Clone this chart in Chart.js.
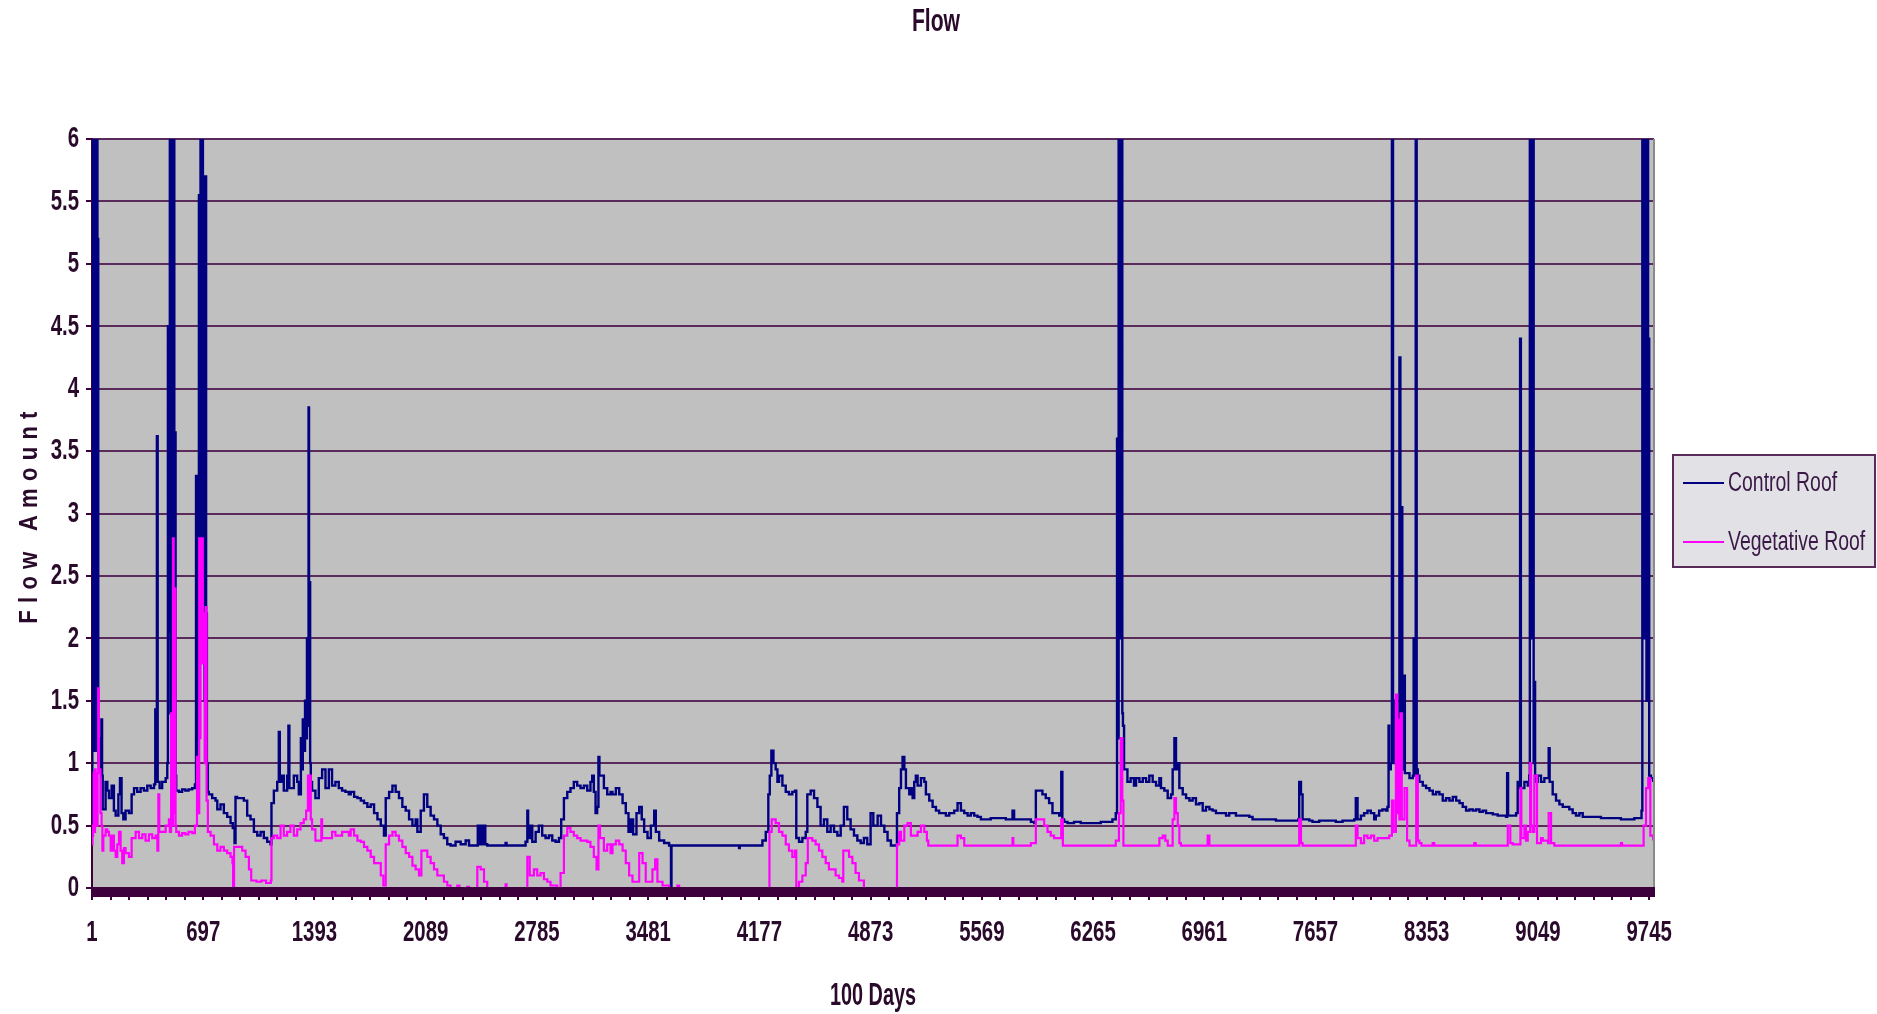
<!DOCTYPE html>
<html>
<head>
<meta charset="utf-8">
<script src="https://cdn.jsdelivr.net/npm/chart.js@4.4.1/dist/chart.umd.min.js"></script>
<style>
  html, body { margin: 0; padding: 0; background: #ffffff; }
  #wrap { width: 1877px; height: 1014px; position: relative; }
</style>
</head>
<body>
<div id="wrap"><canvas id="c" width="1877" height="1014"></canvas></div>
<script>
// ---------------- DATA ----------------
const chartTitle = 'Flow';
const xAxisTitle = '100 Days';
const yAxisTitle = 'Flow Amount';
const seriesNames = ['Control Roof', 'Vegetative Roof'];
const dayTicks = [1, 697, 1393, 2089, 2785, 3481, 4177, 4873, 5569, 6265, 6961, 7657, 8353, 9049, 9745];
const flowTicks = [0, 0.5, 1, 1.5, 2, 2.5, 3, 3.5, 4, 4.5, 5, 5.5, 6];
const dayRange = [1, 9775];

// [day, flow]
const controlRoof = [
[1,0.45],[3,3.1],[5,6],[7,1.1],[9,6],[12,4.05],[14,6],[16,1.1],[19,6],[21,3.0],[23,6],[25,1.5],[27,4.05],[30,1.1],[33,6],[35,2.5],[37,5.2],[40,1.0],[45,1.1],[50,0.95],[55,1.2],[60,1.35],[64,0.9],[68,0.63],
[86,0.85],[97,0.78],[107,0.72],[124,0.82],[138,0.62],[149,0.58],[166,0.75],[176,0.88],[186,0.6],[197,0.55],[211,0.62],[232,0.6],[249,0.75],[264,0.8],[284,0.77],[305,0.8],[326,0.78],[347,0.82],[368,0.8],[389,0.83],[397,1.43],[402,0.9],[407,3.62],[412,0.85],[424,0.8],[440,0.85],[462,0.88],[472,1.0],[476,4.5],[480,2.05],[484,4.05],[488,6],[492,1.4],[496,6],[500,2.5],[504,6],[508,3.0],[512,6],[516,1.4],[520,3.65],[524,0.9],[528,0.78],[545,0.77],[565,0.79],[585,0.78],[605,0.79],[628,0.8],[645,0.83],[652,3.3],[656,1.05],[660,2.8],[665,1.2],[670,5.55],[675,2.0],[680,6],[685,2.5],[690,6],[695,3.0],[700,4.4],[705,1.5],[710,5.7],[715,2.2],[720,1.0],[726,0.77],
[732,0.75],[753,0.72],[774,0.7],[785,0.63],[805,0.67],[826,0.6],[847,0.57],[868,0.52],[882,0.48],[893,0.36],[899,0.73],[909,0.72],[930,0.72],[951,0.7],[972,0.58],[993,0.55],[1014,0.45],[1035,0.42],[1056,0.45],[1076,0.4],[1097,0.37],[1118,0.35],[1124,0.68],[1139,0.78],[1160,0.85],[1170,1.25],[1176,0.85],[1187,0.9],[1201,0.78],[1222,0.9],[1230,1.3],[1236,0.8],[1243,0.8],[1264,0.9],[1285,0.85],[1295,0.75],[1308,1.2],[1312,0.95],[1320,1.35],[1326,1.1],[1334,1.5],[1340,1.2],[1346,2.0],[1351,1.3],[1356,3.85],[1359,1.4],[1362,2.45],[1366,1.0],[1370,0.85],[1378,0.78],[1399,0.72],[1420,0.88],[1441,0.95],[1462,0.8],[1483,0.95],[1503,0.82],[1524,0.85],[1545,0.8],[1566,0.78],[1587,0.77],[1608,0.75],
[1620,0.77],[1641,0.73],[1662,0.72],[1683,0.7],[1703,0.68],[1724,0.65],[1745,0.67],[1766,0.6],[1787,0.55],[1808,0.5],[1828,0.42],[1839,0.72],[1860,0.77],[1881,0.82],[1901,0.77],[1922,0.72],[1943,0.65],[1964,0.62],[1985,0.55],[2006,0.5],[2026,0.55],[2037,0.45],[2058,0.62],[2078,0.75],[2099,0.65],[2120,0.58],[2141,0.55],[2162,0.5],[2183,0.43],[2203,0.4],[2224,0.35],[2245,0.34],[2276,0.37],[2308,0.35],[2339,0.38],[2360,0.34],[2412,0.34],[2415,0.5],[2422,0.35],[2430,0.5],[2440,0.35],[2450,0.5],[2462,0.35],[2474,0.34],[2589,0.36],[2595,0.34],[2714,0.37],[2725,0.62],[2730,0.4],[2745,0.5],[2756,0.37],[2777,0.45],[2797,0.5],[2818,0.42],[2839,0.4],[2860,0.42],[2881,0.38],[2902,0.37],[2923,0.4],[2937,0.55],[2954,0.72],[2975,0.77],[2995,0.8],[3016,0.85],[3037,0.82],[3058,0.8],[3079,0.82],[3100,0.78],[3120,0.85],[3131,0.9],[3141,0.77],[3152,0.6],[3162,0.65],[3170,1.05],[3176,0.9],[3183,0.9],[3204,0.8],[3225,0.75],[3246,0.77],
[3258,0.75],[3279,0.8],[3300,0.75],[3321,0.68],[3341,0.6],[3358,0.45],[3373,0.55],[3387,0.43],[3408,0.6],[3425,0.65],[3441,0.55],[3456,0.45],[3477,0.4],[3498,0.5],[3519,0.62],[3529,0.45],[3550,0.38],[3581,0.36],[3612,0.34],[3624,0],[3627,0.34],[4050,0.32],[4054,0.34],[4196,0.38],[4217,0.45],[4233,0.75],[4242,0.9],[4252,1.1],[4265,1.0],[4279,0.95],[4290,0.85],[4300,0.9],[4321,0.82],[4342,0.77],[4362,0.75],[4383,0.77],[4400,0.78],[4408,0.4],[4425,0.37],[4446,0.4],[4467,0.45],[4477,0.75],[4498,0.78],[4519,0.72],[4540,0.65],[4560,0.5],[4581,0.55],[4602,0.45],[4623,0.5],[4644,0.45],[4665,0.42],[4686,0.5],[4706,0.65],[4727,0.55],[4748,0.47],[4769,0.42],[4790,0.38],[4811,0.36],[4831,0.4],[4852,0.35],[4873,0.6],
[4890,0.5],[4917,0.58],[4938,0.5],[4959,0.45],[4979,0.38],[5000,0.34],[5031,0.34],[5038,0.6],[5052,0.8],[5063,0.95],[5073,1.05],[5084,0.95],[5094,0.8],[5104,0.8],[5115,0.75],[5125,0.8],[5136,0.72],[5146,0.85],[5156,0.9],[5167,0.82],[5188,0.88],[5209,0.85],[5219,0.75],[5240,0.7],[5261,0.65],[5282,0.62],[5302,0.6],[5323,0.6],[5344,0.58],[5365,0.6],[5396,0.62],[5417,0.68],[5438,0.62],[5459,0.6],[5480,0.58],[5500,0.6],[5521,0.58],[5542,0.57],[5563,0.55],[5594,0.55],[5625,0.56],[5657,0.56],[5688,0.56],[5719,0.55],[5740,0.55],[5761,0.62],[5771,0.55],[5813,0.55],[5855,0.55],[5876,0.53],[5896,0.52],[5907,0.78],[5928,0.78],[5948,0.75],[5969,0.72],[5990,0.68],[6011,0.6],[6032,0.6],[6053,0.58],[6066,0.93],[6073,0.55],[6084,0.53],[6105,0.52],[6146,0.53],[6188,0.52],[6230,0.52],[6271,0.52],[6313,0.53],[6355,0.53],[6386,0.55],[6407,0.6],[6415,3.6],[6420,1.2],[6425,6],[6430,2.0],[6435,6],[6440,3.0],[6444,6],[6448,1.4],[6452,1.3],[6459,0.95],[6480,0.85],[6500,0.88],[6521,0.82],
[6534,0.88],[6555,0.85],[6576,0.88],[6597,0.85],[6617,0.9],[6638,0.85],[6659,0.82],[6680,0.88],[6690,0.8],[6711,0.78],[6732,0.72],[6753,0.75],[6763,0.95],[6774,1.2],[6784,0.95],[6795,1.0],[6805,0.8],[6826,0.75],[6847,0.72],[6868,0.7],[6888,0.72],[6909,0.67],[6930,0.68],[6951,0.62],[6972,0.65],[6993,0.63],[7013,0.62],[7034,0.6],[7055,0.6],[7076,0.6],[7097,0.58],[7117,0.6],[7159,0.58],[7201,0.58],[7243,0.57],[7263,0.55],[7326,0.55],[7388,0.55],[7409,0.54],[7472,0.54],[7534,0.54],[7549,0.55],[7555,0.85],[7566,0.75],[7576,0.55],[7618,0.54],[7638,0.53],[7680,0.54],[7722,0.54],[7763,0.54],[7784,0.53],[7826,0.54],[7868,0.54],[7899,0.55],[7909,0.72],[7920,0.55],[7941,0.58],[7961,0.6],[7982,0.62],[8003,0.6],[8024,0.55],[8034,0.58],[8055,0.62],[8076,0.63],[8097,0.62],[8107,0.65],[8114,1.3],[8118,0.95],[8128,1.0],[8135,6],[8142,1.0],[8150,1.5],[8158,1.0],[8170,1.3],[8176,0.9],[8182,4.25],[8188,1.0],[8195,3.05],[8200,0.95],[8210,1.7],[8216,0.92],[8224,0.92],[8245,0.88],[8266,0.9],[8271,2.0],[8276,0.9],[8284,6],[8290,0.95],[8297,0.9],
[8307,0.85],[8328,0.82],[8349,0.8],[8370,0.78],[8391,0.75],[8412,0.77],[8432,0.75],[8453,0.7],[8474,0.72],[8495,0.7],[8516,0.73],[8537,0.7],[8558,0.68],[8578,0.65],[8599,0.62],[8620,0.63],[8641,0.62],[8662,0.63],[8683,0.61],[8703,0.62],[8724,0.6],[8745,0.6],[8766,0.59],[8797,0.58],[8828,0.58],[8849,0.57],[8856,0.92],[8862,0.58],[8891,0.58],[8912,0.6],[8922,0.85],[8930,0.8],[8937,4.4],[8942,0.8],[8964,0.85],[8985,0.82],[8994,0.9],[8998,6],[9004,2.0],[9008,6],[9013,3.0],[9018,6],[9022,1.0],[9027,1.65],[9031,0.85],[9047,0.9],[9068,0.85],[9089,0.88],[9110,0.88],[9116,1.12],[9122,0.85],[9141,0.75],[9162,0.7],[9183,0.67],[9204,0.65],[9224,0.65],[9245,0.63],[9266,0.6],[9287,0.58],[9308,0.6],[9329,0.57],[9360,0.57],[9402,0.57],[9443,0.56],[9485,0.56],[9527,0.56],[9568,0.55],[9610,0.55],[9652,0.56],[9683,0.56],[9697,0.62],[9702,6],[9708,2.0],[9713,6],[9718,3.5],[9723,6],[9728,1.5],[9733,6],[9738,4.4],[9745,0.9],[9756,0.88],[9770,0.85]
];

const vegetativeRoof = [
[1,0.35],[4,0.42],[8,0.5],[12,0.92],[16,0.45],[20,0.95],[24,0.6],[30,0.5],[36,0.92],[40,1.6],[44,0.95],[49,0.95],[54,0.6],[61,0.5],[66,0.3],[72,0.42],[86,0.47],[97,0.45],[107,0.42],[118,0.3],[128,0.42],[138,0.3],[149,0.25],[159,0.35],[170,0.45],[180,0.3],[190,0.2],[201,0.32],[211,0.28],[232,0.25],[249,0.4],[274,0.45],[295,0.4],[316,0.43],[336,0.38],[357,0.43],[378,0.4],[399,0.42],[410,0.3],[416,0.75],[422,0.45],[440,0.45],[462,0.5],[482,0.55],[488,0.45],[496,1.4],[500,0.5],[508,2.8],[512,0.6],[518,2.4],[524,0.5],[528,0.45],[545,0.42],[565,0.44],[585,0.43],[605,0.45],[628,0.44],[645,0.5],[658,1.05],[664,0.6],[672,2.8],[676,1.2],[680,2.3],[688,2.8],[694,1.8],[700,2.2],[706,1.0],[712,2.25],[718,0.7],[726,0.45],[743,0.42],[764,0.35],[785,0.3],[805,0.33],[826,0.3],[847,0.28],[868,0.25],[880,0.2],[884,0],[890,0.33],[920,0.33],[941,0.3],[962,0.25],[983,0.15],[997,0.06],[1030,0.05],[1060,0.06],[1090,0.04],[1120,0.06],
[1124,0.4],[1139,0.42],[1160,0.4],[1181,0.5],[1201,0.42],[1222,0.45],[1243,0.5],[1264,0.42],[1285,0.47],[1306,0.52],[1326,0.55],[1341,0.62],[1352,0.9],[1358,0.62],[1364,0.9],[1370,0.55],[1378,0.47],[1399,0.38],[1420,0.38],[1436,0.55],[1441,0.4],[1462,0.4],[1483,0.4],[1503,0.45],[1524,0.42],[1566,0.45],[1608,0.42],[1620,0.47],[1641,0.42],[1662,0.38],[1683,0.37],[1703,0.33],[1724,0.3],[1745,0.25],[1766,0.2],[1787,0.2],[1808,0.1],[1824,0.02],[1839,0.35],[1860,0.42],[1881,0.45],[1901,0.42],[1922,0.38],[1943,0.33],[1964,0.28],[1985,0.25],[2006,0.18],[2026,0.15],[2047,0.1],[2062,0.3],[2078,0.3],[2099,0.25],[2120,0.2],[2141,0.15],[2162,0.1],[2183,0.1],[2203,0.05],[2224,0.02],[2245,0],[2287,0.02],[2300,0],[2349,0.01],[2360,0],[2412,0.17],[2433,0.15],[2454,0.05],[2474,0],[2589,0.03],[2595,0],[2720,0],[2725,0.25],[2740,0.1],[2766,0.15],[2787,0.1],[2808,0.12],[2829,0.07],[2850,0.05],[2870,0.02],[2912,0],[2933,0.12],[2954,0.42],[2975,0.48],[2995,0.45],[3016,0.42],[3037,0.4],[3058,0.38],[3079,0.38],[3100,0.37],[3120,0.33],[3141,0.25],[3158,0.15],[3170,0.5],[3180,0.4],[3204,0.3],[3225,0.35],[3246,0.28],
[3258,0.35],[3279,0.38],[3300,0.35],[3321,0.3],[3341,0.2],[3362,0.1],[3383,0.05],[3404,0.05],[3425,0.28],[3446,0.2],[3466,0.05],[3487,0.05],[3508,0.15],[3525,0.23],[3539,0.05],[3571,0.02],[3612,0],[3664,0.02],[3675,0],[4236,0],[4240,0.45],[4254,0.55],[4279,0.52],[4300,0.45],[4321,0.42],[4342,0.35],[4362,0.3],[4383,0.25],[4400,0.3],[4408,0],[4425,0.05],[4446,0.1],[4467,0.2],[4480,0.4],[4508,0.38],[4529,0.35],[4550,0.3],[4571,0.25],[4592,0.2],[4612,0.15],[4633,0.15],[4654,0.1],[4675,0.08],[4696,0.05],[4702,0.3],[4738,0.25],[4759,0.2],[4779,0.12],[4800,0.06],[4831,0],
[5036,0],[5038,0.35],[5052,0.45],[5063,0.38],[5084,0.5],[5104,0.52],[5125,0.42],[5146,0.42],[5167,0.45],[5188,0.5],[5209,0.45],[5225,0.38],[5234,0.34],[5396,0.34],[5417,0.42],[5438,0.4],[5459,0.34],[5761,0.4],[5766,0.34],[5876,0.36],[5896,0.36],[5907,0.55],[5938,0.55],[5959,0.5],[5980,0.45],[6000,0.42],[6021,0.4],[6042,0.4],[6066,0.55],[6076,0.34],[6407,0.38],[6427,0.6],[6438,1.2],[6448,0.7],[6455,0.34],
[6669,0.34],[6680,0.4],[6701,0.42],[6717,0.38],[6732,0.34],[6763,0.55],[6774,0.72],[6784,0.6],[6795,0.5],[6805,0.36],[6815,0.34],[6976,0.34],[6982,0.42],[6993,0.34],[7550,0.34],[7555,0.55],[7566,0.36],[7576,0.34],[7905,0.34],[7909,0.5],[7920,0.4],[7941,0.36],[7961,0.42],[7982,0.4],[8003,0.42],[8024,0.38],[8045,0.4],[8066,0.4],[8086,0.4],[8118,0.42],[8135,0.7],[8145,0.45],[8160,1.55],[8168,0.6],[8175,1.35],[8182,0.55],[8189,1.4],[8197,0.55],[8214,0.8],[8230,0.38],[8245,0.34],[8280,0.34],[8287,0.9],[8297,0.38],[8307,0.36],[8320,0.34],[8390,0.36],[8400,0.34],[8650,0.36],[8660,0.34],[8855,0.34],[8860,0.5],[8876,0.36],[8891,0.35],[8935,0.35],[8939,0.8],[8945,0.4],[8964,0.5],[8974,0.38],[8985,0.45],[9000,1.0],[9006,0.5],[9016,0.45],[9026,0.9],[9043,0.36],[9068,0.4],[9079,0.38],[9112,0.36],[9116,0.6],[9131,0.36],[9151,0.34],[9568,0.36],[9575,0.34],[9705,0.34],[9710,0.5],[9725,0.8],[9739,0.88],[9752,0.42],[9770,0.38]
];

// ---------------- STYLE ----------------
const SANS = '"Liberation Sans", Arial, sans-serif';
const TEXT = '#2a0a2a';
const AXIS = '#3d003d';
const GRID = '#5a2a5a';
const seriesColors = ['#000080', '#ff00ff'];

function condensedText(ctx, text, x, y, font, sx, align, rot, spacing, color) {
  ctx.save();
  ctx.translate(x, y);
  if (rot) ctx.rotate(rot);
  ctx.scale(sx, 1);
  ctx.font = font;
  ctx.fillStyle = color || TEXT;
  ctx.textAlign = align || 'center';
  ctx.textBaseline = 'middle';
  if (spacing) ctx.letterSpacing = spacing + 'px';
  ctx.fillText(text, 0, 0);
  ctx.restore();
}

const decorPlugin = {
  id: 'decor',
  beforeDraw(chart) {
    const { ctx, chartArea: a } = chart;
    ctx.save();
    ctx.fillStyle = '#c0c0c0';
    ctx.fillRect(a.left, a.top, a.right - a.left, a.bottom - a.top);
    ctx.restore();
  },
  afterDraw(chart) {
    const { ctx, chartArea: a } = chart;
    const xs = chart.scales.x, ys = chart.scales.y;
    ctx.save();
    // right plot border
    ctx.strokeStyle = '#8a8a8a';
    ctx.lineWidth = 2;
    ctx.beginPath(); ctx.moveTo(a.right, a.top); ctx.lineTo(a.right, a.bottom); ctx.stroke();
    // thick category-axis band
    ctx.fillStyle = AXIS;
    ctx.fillRect(a.left - 1, a.bottom - 1, a.right - a.left + 2, 10);
    ctx.restore();

    // tick labels, placed by the library's scales
    xs.ticks.forEach(t => {
      if (!dayTicks.includes(t.value)) return;
      condensedText(ctx, String(t.value), xs.getPixelForValue(t.value), a.bottom + 45, 'bold 30px ' + SANS, 0.68);
    });
    ys.ticks.forEach(t => {
      condensedText(ctx, String(t.value), a.left - 13, ys.getPixelForValue(t.value), 'bold 30px ' + SANS, 0.68, 'right');
    });

    // titles
    condensedText(ctx, chartTitle, 936, 22, 'bold 32px ' + SANS, 0.66);
    condensedText(ctx, xAxisTitle, (a.left + a.right) / 2, 996, 'bold 31px ' + SANS, 0.64);
    condensedText(ctx, yAxisTitle, 30, 514, 'bold 26px ' + SANS, 0.85, 'center', -Math.PI / 2, 8.5);

    // legend
    const bx = 1673, by = 455, bw = 202, bh = 112;
    ctx.save();
    ctx.fillStyle = '#e2e2e6';
    ctx.fillRect(bx, by, bw, bh);
    ctx.strokeStyle = '#5a2a5a';
    ctx.lineWidth = 2;
    ctx.strokeRect(bx, by, bw, bh);
    chart.data.datasets.forEach((ds, i) => {
      const ly = by + 28 + i * 59;
      ctx.strokeStyle = ds.borderColor;
      ctx.lineWidth = 2;
      ctx.beginPath(); ctx.moveTo(bx + 10, ly); ctx.lineTo(bx + 51, ly); ctx.stroke();
      condensedText(ctx, ds.label, bx + 55, ly + 1, '27px ' + SANS, 0.72, 'left', 0, 0, '#3a1846');
    });
    ctx.restore();
  }
};

const chart = new Chart(document.getElementById('c'), {
  type: 'line',
  data: {
    datasets: [
      {
        label: seriesNames[0],
        data: controlRoof.map(([d, f]) => ({ x: d, y: f })),
        borderColor: seriesColors[0],
        borderWidth: 2.4,
        pointRadius: 0,
        stepped: true,
        order: 2
      },
      {
        label: seriesNames[1],
        data: vegetativeRoof.map(([d, f]) => ({ x: d, y: f })),
        borderColor: seriesColors[1],
        borderWidth: 2.2,
        pointRadius: 0,
        stepped: true,
        order: 1
      }
    ]
  },
  options: {
    responsive: false,
    animation: false,
    devicePixelRatio: 1,
    layout: { padding: { left: 0, top: 139, right: 223, bottom: 0 } },
    plugins: { legend: { display: false }, tooltip: { enabled: false }, title: { display: false } },
    scales: {
      x: {
        type: 'linear',
        min: dayRange[0],
        max: dayRange[1],
        afterFit(s) { s.height = 126; },
        afterBuildTicks(s) {
          const t = [];
          for (let i = 0; i < dayTicks.length; i++) {
            t.push({ value: dayTicks[i] });
            if (i < dayTicks.length - 1) {
              const step = (dayTicks[i + 1] - dayTicks[i]) / 6;
              for (let k = 1; k < 6; k++) t.push({ value: dayTicks[i] + step * k });
            }
          }
          t.push({ value: dayTicks[dayTicks.length - 1] + (dayTicks[1] - dayTicks[0]) / 6 });
          s.ticks = t.filter(o => o.value <= dayRange[1]);
        },
        ticks: { display: false, autoSkip: false, maxRotation: 0 },
        grid: { display: true, drawOnChartArea: false, drawTicks: true, tickLength: 12, tickColor: AXIS, lineWidth: 2 },
        border: { display: true, color: AXIS, width: 2 }
      },
      y: {
        min: flowTicks[0],
        max: flowTicks[flowTicks.length - 1],
        afterFit(s) { s.width = 92; },
        afterBuildTicks(s) { s.ticks = flowTicks.map(v => ({ value: v })); },
        ticks: { display: false },
        grid: { color: GRID, lineWidth: 2, tickLength: 6, tickColor: AXIS },
        border: { display: true, color: AXIS, width: 2 }
      }
    }
  },
  plugins: [decorPlugin]
});
</script>
</body>
</html>
